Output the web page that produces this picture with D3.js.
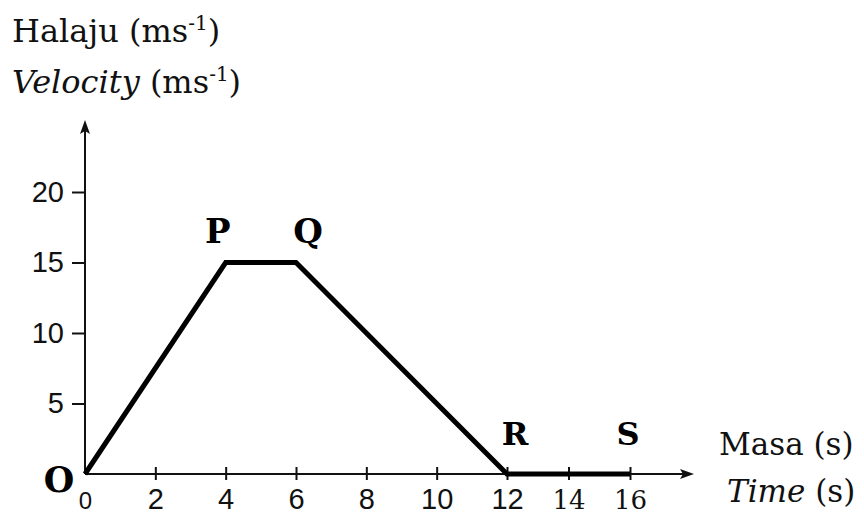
<!DOCTYPE html>
<html>
<head>
<meta charset="utf-8">
<script src="https://cdn.jsdelivr.net/npm/d3@7"></script>
<style>
  body { margin: 0; background: #fff; }
  svg { display: block; }
</style>
</head>
<body>
<div id="chart"></div>
<script>
// velocity-time graph data
var times = [0, 4, 6, 12, 16];
var velocities = [0, 15, 15, 0, 0];
var pointNames = ["O", "P", "Q", "R", "S"];
var xTicks = [0, 2, 4, 6, 8, 10, 12, 14, 16];
var yTicks = [5, 10, 15, 20];

var width = 864, height = 516;

var svg = d3.select("#chart").append("svg")
  .attr("width", width)
  .attr("height", height);

// the printed axis is squeezed a bit after 12 s
var x = d3.scaleLinear().domain([0, 12, 16]).range([85, 507, 630]);
var y = d3.scaleLinear().domain([0, 20]).range([474, 192]);

var serif = "'DejaVu Serif', serif";
var sans = "'Liberation Sans', Arial, sans-serif";

// y axis
var yAxis = svg.append("g")
  .attr("transform", "translate(" + x(0) + ",0)")
  .call(d3.axisLeft(y).tickValues(yTicks).tickSize(13).tickPadding(8));
yAxis.select(".domain").remove();
yAxis.selectAll(".tick line").attr("stroke", "#111").attr("stroke-width", 2);
yAxis.selectAll(".tick text")
  .attr("font-family", sans)
  .attr("font-size", 29)
  .attr("fill", "#111");

// x axis, ticks point up
var xAxis = svg.append("g")
  .attr("transform", "translate(0," + y(0) + ")")
  .call(d3.axisBottom(x).tickValues(xTicks).tickSize(0).tickPadding(0)
    .tickFormat(d3.format("d")));
xAxis.select(".domain").remove();
xAxis.selectAll(".tick").filter(function(d) { return d > 0; })
  .append("line")
  .attr("y1", -7).attr("y2", 6)
  .attr("stroke", "#111").attr("stroke-width", 2);
xAxis.selectAll(".tick text")
  .attr("y", 35)
  .attr("dy", null)
  .attr("fill", "#111")
  .attr("font-family", function(d) { return d > 12 ? serif : sans; })
  .attr("font-size", function(d) { return d == 0 ? 24 : d > 12 ? 26 : 29; });

// axis lines with arrow heads
svg.append("line")
  .attr("x1", x(0)).attr("y1", y(0))
  .attr("x2", x(0)).attr("y2", 128)
  .attr("stroke", "#111").attr("stroke-width", 2);
svg.append("path")
  .attr("d", d3.line()([[x(0), 120], [x(0) - 5, 134], [x(0), 131], [x(0) + 5, 134]]) + "Z")
  .attr("fill", "#111");

svg.append("line")
  .attr("x1", x(0)).attr("y1", y(0))
  .attr("x2", 688).attr("y2", y(0))
  .attr("stroke", "#111").attr("stroke-width", 2);
svg.append("path")
  .attr("d", d3.line()([[694, y(0)], [680, y(0) - 5], [683, y(0)], [680, y(0) + 5]]) + "Z")
  .attr("fill", "#111");

// the graph itself
var pts = times.map(function(t, i) { return [x(t), y(velocities[i])]; });
svg.append("path")
  .datum(pts)
  .attr("d", d3.line())
  .attr("fill", "none")
  .attr("stroke", "#000")
  .attr("stroke-width", 5)
  .attr("stroke-linejoin", "miter");

// point names
var nameOffsets = { O: [-26, 18], P: [-8, -20], Q: [12, -20], R: [8, -29], S: [-2, -29] };
svg.selectAll(".pname")
  .data(pointNames)
  .enter().append("text")
  .attr("class", "pname")
  .attr("x", function(d, i) { return pts[i][0] + nameOffsets[d][0]; })
  .attr("y", function(d, i) { return pts[i][1] + nameOffsets[d][1]; })
  .attr("text-anchor", "middle")
  .style("font-family", serif)
  .style("font-weight", "bold")
  .style("font-size", function(d) { return d == "O" ? "35px" : d == "R" || d == "S" ? "32px" : "34px"; })
  .text(function(d) { return d; });

// axis titles
function unitLabel(sel, word, italic) {
  sel.append("tspan").style("font-style", italic ? "italic" : "normal").text(word);
  sel.append("tspan").text(" (ms");
  sel.append("tspan").attr("dy", -12).style("font-size", "20px").text("-1");
  sel.append("tspan").attr("dy", 12).text(")");
}
var t1 = svg.append("text").attr("x", 12).attr("y", 42)
  .style("font-family", serif).style("font-size", "32px").attr("fill", "#111");
unitLabel(t1, "Halaju", false);
var t2 = svg.append("text").attr("x", 12).attr("y", 93)
  .style("font-family", serif).style("font-size", "32px").attr("fill", "#111");
unitLabel(t2, "Velocity", true);

svg.append("text").attr("x", 719).attr("y", 455)
  .style("font-family", serif).style("font-size", "31px").attr("fill", "#111")
  .text("Masa (s)");
var t4 = svg.append("text").attr("x", 727).attr("y", 502)
  .style("font-family", serif).style("font-size", "31px").attr("fill", "#111");
t4.append("tspan").style("font-style", "italic").text("Time");
t4.append("tspan").text(" (s)");
</script>
</body>
</html>
